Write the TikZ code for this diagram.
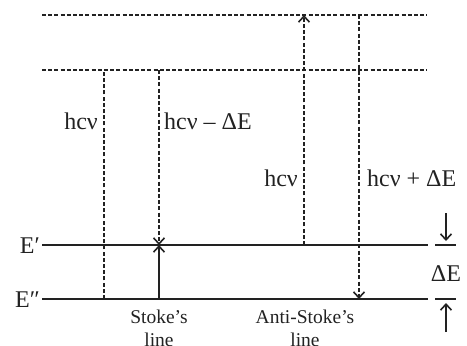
\documentclass[tikz,border=0pt]{standalone}
\usepackage{fontspec}
\setmainfont{Liberation Serif}
\usetikzlibrary{arrows.meta}
\definecolor{ink}{HTML}{222222}
\begin{document}
\begin{tikzpicture}[x=1pt,y=-1pt,color=ink,
  virtual/.style={line width=1.6pt,dash pattern=on 4pt off 2.2pt},
  level/.style={line width=2.4pt},
  tip/.style={-{Straight Barb[length=6pt,width=11pt,line width=1.6pt]}},
  lbl/.style={font=\fontsize{24}{26}\selectfont,inner sep=0pt},
  small/.style={font=\fontsize{19.5}{23}\selectfont,inner sep=0pt,align=center}]
\useasboundingbox (0,0) rectangle (467,346);
% energy levels
\coordinate (V2l) at (42,15);  \coordinate (V2r) at (427,15);
\coordinate (V1l) at (42,70);  \coordinate (V1r) at (427,70);
\coordinate (Epl) at (42,245); \coordinate (Epr) at (428,245);
\coordinate (Eppl) at (42,299); \coordinate (Eppr) at (428,299);
\draw[virtual] (V2l) -- (V2r);
\draw[virtual] (V1l) -- (V1r);
\draw[level] (Epl) -- (Epr);
\draw[level] (Eppl) -- (Eppr);
% transition points
\coordinate (a1) at (104,70);  \coordinate (a0) at (104,299);
\coordinate (b1) at (159,70);  \coordinate (b0) at (159,245); \coordinate (bg) at (159,299);
\coordinate (c0) at (304,245); \coordinate (c1) at (304,15);
\coordinate (d1) at (359,15);  \coordinate (d0) at (359,299);
\draw[virtual] (a0) -- (a1);
\draw[virtual,tip] (b1) -- (b0);
\draw[level,tip,line width=2pt] (bg) -- (b0);
\draw[virtual,tip] (c0) -- (c1);
\draw[virtual,tip] (d1) -- (d0);
% energy gap marker
\coordinate (g1l) at (435,245); \coordinate (g1r) at (456,245);
\coordinate (g0l) at (435,299); \coordinate (g0r) at (456,299);
\draw[level] (g1l) -- (g1r);
\draw[level] (g0l) -- (g0r);
\coordinate (t1) at (446,213); \coordinate (t1e) at (446,241);
\coordinate (t0) at (446,332); \coordinate (t0e) at (446,303);
\draw[line width=2pt,tip] (t1) -- (t1e);
\draw[line width=2pt,tip] (t0) -- (t0e);
% labels
\node[lbl,anchor=east] (Ep) at (40,246) {E′};
\node[lbl,anchor=east] (Epp) at (40,300) {E″};
\node[lbl] (dE) at (446,274) {ΔE};
\node[lbl,anchor=east] (l1) at (98,121) {hcν};
\node[lbl,anchor=west] (l2) at (164,121) {hcν – ΔE};
\node[lbl,anchor=east] (l3) at (298,178) {hcν};
\node[lbl,anchor=west] (l4) at (367,178) {hcν + ΔE};
\node[small] (s1) at (159,328) {Stoke’s\\line};
\node[small] (s2) at (305,328) {Anti-Stoke’s\\line};
\end{tikzpicture}
\end{document}
